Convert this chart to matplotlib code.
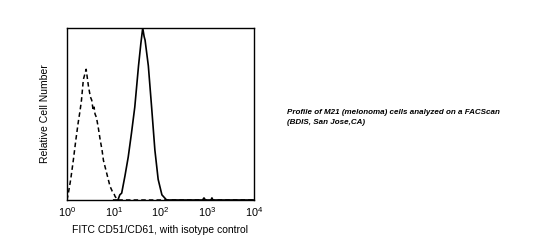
import numpy as np
import matplotlib.pyplot as plt

# Histogram outlines (log10 of FITC intensity, relative count)
isotype_log = [0.0, 0.03, 0.08, 0.135, 0.19, 0.24, 0.28, 0.31, 0.35, 0.38, 0.41, 0.44,
               0.46, 0.50, 0.53, 0.56, 0.58, 0.60, 0.63, 0.67, 0.71, 0.75, 0.78, 0.85,
               0.92, 0.97, 1.0, 1.03, 1.06, 1.09, 1.2, 2.0, 3.0, 4.0]
isotype_cnt = [0.0, 0.04, 0.12, 0.23, 0.35, 0.45, 0.52, 0.58, 0.70, 0.73, 0.76, 0.70,
               0.66, 0.60, 0.58, 0.52, 0.54, 0.50, 0.48, 0.42, 0.35, 0.29, 0.23, 0.155,
               0.08, 0.05, 0.04, 0.02, 0.01, 0.0, 0.0, 0.0, 0.0, 0.0]

stained_log = [1.0, 1.09, 1.13, 1.17, 1.24, 1.31, 1.38, 1.45, 1.53, 1.58, 1.62, 1.65,
               1.67, 1.74, 1.81, 1.88, 1.95, 2.03, 2.13, 2.9, 2.93, 2.96, 3.08, 3.1, 3.12, 4.0]
stained_cnt = [0.0, 0.0, 0.03, 0.04, 0.14, 0.25, 0.39, 0.54, 0.78, 0.91, 1.0, 0.95,
               0.93, 0.78, 0.54, 0.29, 0.12, 0.03, 0.0, 0.0, 0.012, 0.0, 0.0, 0.012, 0.0, 0.0]

tick_pos = [1, 10, 100, 1000, 10000]
tick_labels = ["$10^0$", "$10^1$", "$10^2$", "$10^3$", "$10^4$"]

plt.rcParams['font.family'] = ['Liberation Sans', 'DejaVu Sans']
plt.rcParams['mathtext.fontset'] = 'custom'
plt.rcParams['mathtext.rm'] = 'Liberation Sans'

fig = plt.figure(figsize=(5.6, 2.45), dpi=100)
ax = fig.add_axes([0.1196, 0.1837, 0.334, 0.702])

ax.plot(10 ** np.array(isotype_log), isotype_cnt, color="black", lw=1.1, ls=(0, (3, 2)))
ax.plot(10 ** np.array(stained_log), stained_cnt, color="black", lw=1.2)

ax.set_xscale("log")
ax.set_xlim(1, 10000)
ax.set_ylim(0, 1.0)
ax.set_xticks(tick_pos)
ax.set_xticklabels(tick_labels, fontsize=7.8)
ax.minorticks_off()
ax.tick_params(axis="x", length=0, pad=4)
ax.set_yticks([])
for s in ax.spines.values():
    s.set_linewidth(1.0)

ax.set_xlabel("FITC CD51/CD61, with isotype control", fontsize=7.5, labelpad=4)
ax.set_ylabel("Relative Cell Number", fontsize=7.5, labelpad=12)

fig.text(0.5125, 0.522, "Profile of M21 (melonoma) cells analyzed on a FACScan\n(BDIS, San Jose,CA)",
         fontsize=5.8, fontweight="bold", style="italic", va="center", ha="left", linespacing=1.6)

plt.savefig("out.png", dpi=100)
